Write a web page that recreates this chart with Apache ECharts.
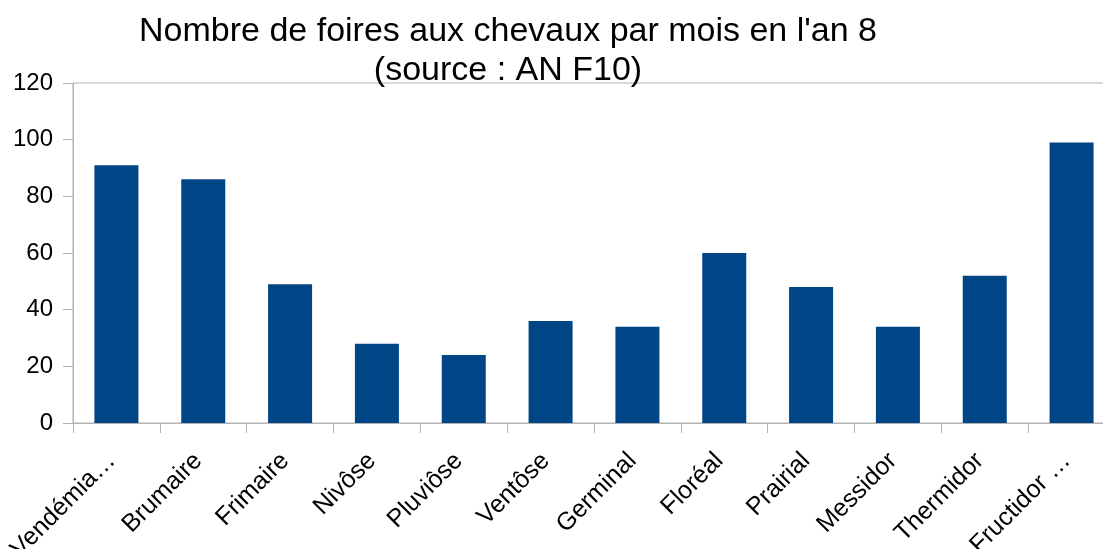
<!DOCTYPE html>
<html>
<head>
<meta charset="utf-8">
<style>
  html, body { margin: 0; padding: 0; background: #ffffff; }
  #chart { width: 1103px; height: 549px; }
</style>
<script src="https://cdn.jsdelivr.net/npm/echarts@6/dist/echarts.min.js"></script>
</head>
<body>
<div id="chart"></div>
<script>
// Months of the republican calendar, year 8
const months = ['Vendémia…', 'Brumaire', 'Frimaire', 'Nivôse', 'Pluviôse', 'Ventôse',
                'Germinal', 'Floréal', 'Prairial', 'Messidor', 'Thermidor', 'Fructidor …'];
// Number of horse fairs per month
const fairs = [91, 86, 49, 28, 24, 36, 34, 60, 48, 34, 52, 99];
const titleLines = ["Nombre de foires aux chevaux par mois en l'an 8", '(source : AN F10)'];

const FONT = '"Liberation Sans", Arial, sans-serif';
const GREY = '#b3b3b3';

const chart = echarts.init(document.getElementById('chart'), null, { renderer: 'canvas' });
chart.setOption({
  animation: false,
  backgroundColor: '#ffffff',
  graphic: [{
    type: 'text',
    x: 508,
    y: 12,
    style: {
      text: titleLines.join('\n'),
      font: '34px ' + FONT,
      fill: '#000000',
      textAlign: 'center',
      lineHeight: 39
    }
  }],
  grid: {
    left: 73, top: 83, width: 1042, height: 340,
    outerBoundsMode: 'none', containLabel: false,
    show: true, borderColor: GREY, borderWidth: 1, backgroundColor: 'transparent'
  },
  xAxis: {
    type: 'category',
    data: months,
    axisLine: { lineStyle: { color: GREY, width: 1 } },
    axisTick: { show: true, length: 10, lineStyle: { color: GREY } },
    axisLabel: {
      interval: 0, rotate: 45, margin: 29, padding: [0, 7, 0, 0],
      fontFamily: FONT, fontSize: 25, color: '#000000'
    },
    splitLine: { show: false }
  },
  yAxis: {
    type: 'value',
    min: 0, max: 120, interval: 20,
    axisLine: { show: true, lineStyle: { color: GREY, width: 1 } },
    axisTick: { show: true, length: 10, lineStyle: { color: GREY } },
    axisLabel: { margin: 20, fontFamily: FONT, fontSize: 24, color: '#000000' },
    splitLine: { show: false }
  },
  series: [{
    type: 'bar',
    data: fairs,
    barWidth: 44,
    itemStyle: { color: '#004586' }
  }]
});
</script>
</body>
</html>
